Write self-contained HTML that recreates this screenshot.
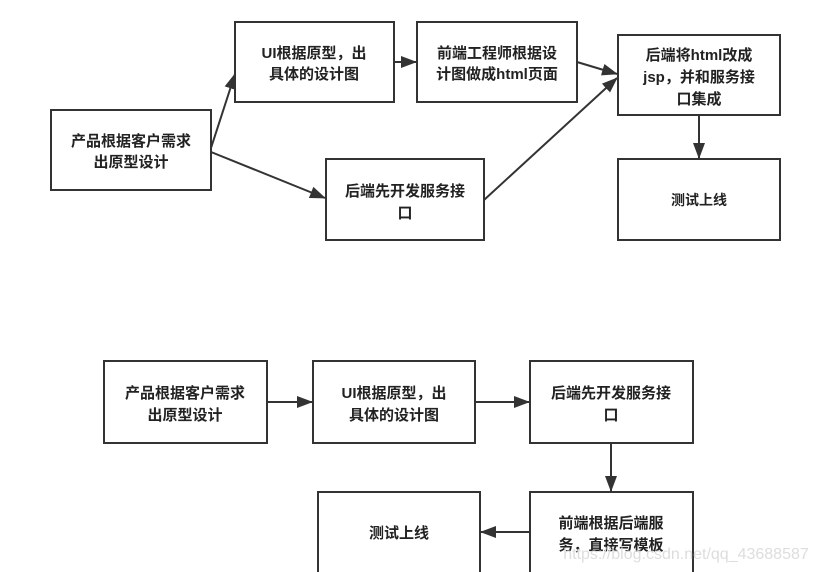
<!DOCTYPE html>
<html><head><meta charset="utf-8"><style>
html,body{margin:0;padding:0;background:#fff;}
svg{display:block;}
text{font-family:"Liberation Sans","Noto Sans CJK SC",sans-serif;font-weight:bold;font-size:15px;fill:#222;text-anchor:middle;}
rect{fill:#fff;stroke:#333;stroke-width:2;}
line{stroke:#333;stroke-width:2;}
</style></head><body>
<svg width="816" height="572" viewBox="0 0 816 572" xmlns="http://www.w3.org/2000/svg">
<defs><marker id="a" markerWidth="10" markerHeight="10" refX="9" refY="5" orient="auto" markerUnits="userSpaceOnUse"><path d="M0,0 L10,5 L0,10 z" fill="#333"/></marker>
<marker id="b" markerWidth="16" markerHeight="12" refX="15" refY="6" orient="auto" markerUnits="userSpaceOnUse"><path d="M0,0 L16,6 L0,12 z" fill="#333"/></marker></defs>
<!-- top -->
<rect x="51" y="110" width="160" height="80"/>
<text x="131" y="146">产品根据客户需求</text><text x="131" y="167">出原型设计</text>
<rect x="235" y="22" width="159" height="80"/>
<text x="314" y="58">UI根据原型，出</text><text x="314" y="79">具体的设计图</text>
<rect x="417" y="22" width="160" height="80"/>
<text x="497" y="58">前端工程师根据设</text><text x="497" y="79">计图做成html页面</text>
<rect x="618" y="35" width="162" height="80"/>
<text x="699" y="60">后端将html改成</text><text x="699" y="82">jsp，并和服务接</text><text x="699" y="104">口集成</text>
<rect x="326" y="159" width="158" height="81"/>
<text x="405" y="196">后端先开发服务接</text><text x="405" y="218">口</text>
<rect x="618" y="159" width="162" height="81"/>
<text x="699" y="205" style="font-size:14px">测试上线</text>
<line x1="211" y1="148" x2="235" y2="74" marker-end="url(#b)"/>
<line x1="211" y1="152" x2="325" y2="198" marker-end="url(#b)"/>
<line x1="394" y1="62" x2="416" y2="62" marker-end="url(#b)"/>
<line x1="577" y1="62" x2="617" y2="74" marker-end="url(#b)"/>
<line x1="484" y1="200" x2="617" y2="78" marker-end="url(#b)"/>
<line x1="699" y1="115" x2="699" y2="158" marker-end="url(#b)"/>
<!-- bottom -->
<rect x="104" y="361" width="163" height="82"/>
<text x="185" y="398">产品根据客户需求</text><text x="185" y="420">出原型设计</text>
<rect x="313" y="361" width="162" height="82"/>
<text x="394" y="398">UI根据原型，出</text><text x="394" y="420">具体的设计图</text>
<rect x="530" y="361" width="163" height="82"/>
<text x="611" y="398">后端先开发服务接</text><text x="611" y="420">口</text>
<rect x="530" y="492" width="163" height="90"/>
<text x="611" y="528">前端根据后端服</text><text x="611" y="550">务，直接写模板</text>
<rect x="318" y="492" width="162" height="90"/>
<text x="399" y="538">测试上线</text>
<line x1="267" y1="402" x2="312" y2="402" marker-end="url(#b)"/>
<line x1="475" y1="402" x2="529" y2="402" marker-end="url(#b)"/>
<line x1="611" y1="443" x2="611" y2="491" marker-end="url(#b)"/>
<line x1="530" y1="532" x2="481" y2="532" marker-end="url(#b)"/>
<text x="686" y="559" style="font-weight:normal;font-size:16px;fill:#ddd;">https://blog.csdn.net/qq_43688587</text>
</svg>
</body></html>
